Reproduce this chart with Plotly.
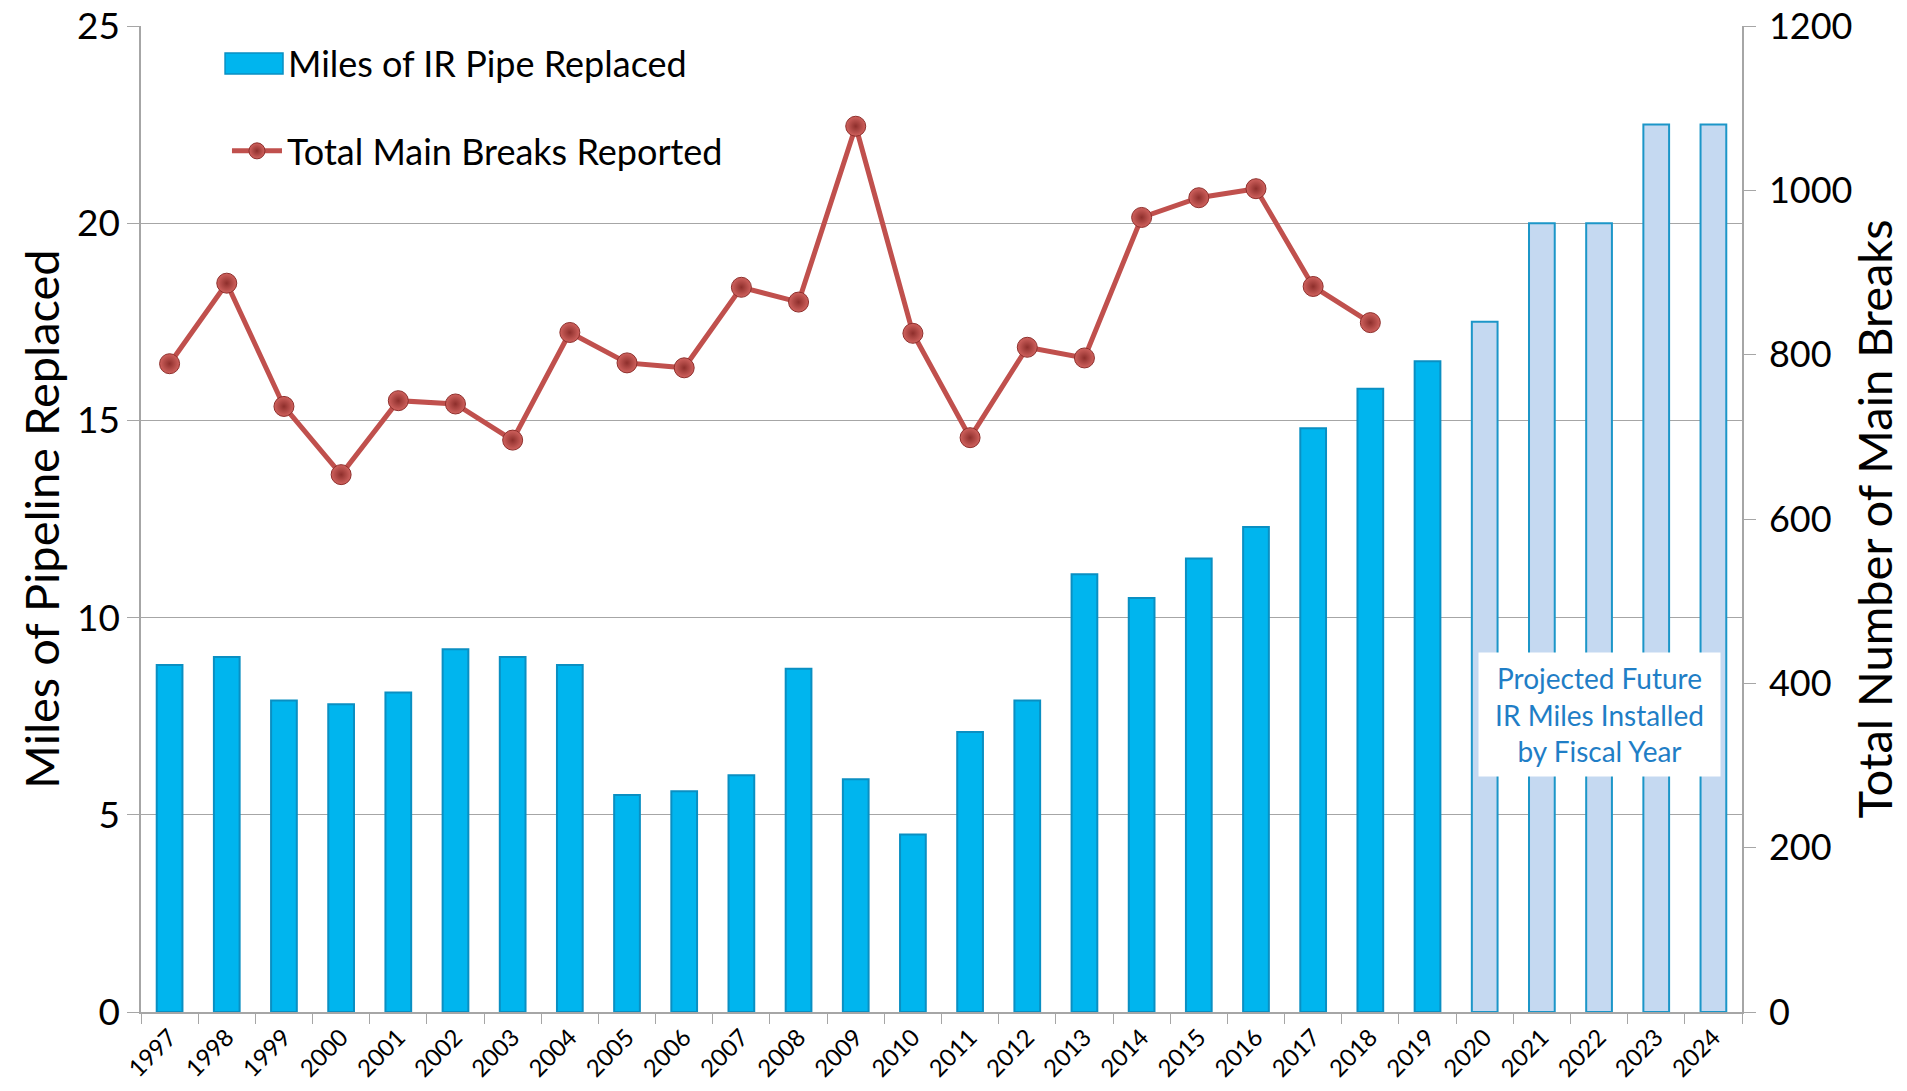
import plotly.graph_objects as go

years = [str(y) for y in range(1997, 2025)]
miles_replaced = [8.8, 9.0, 7.9, 7.8, 8.1, 9.2, 9.0, 8.8, 5.5, 5.6, 6.0, 8.7, 5.9, 4.5,
                  7.1, 7.9, 11.1, 10.5, 11.5, 12.3, 14.8, 15.8, 16.5, 17.5, 20.0, 20.0, 22.5, 22.5]
projected_flag = [False] * 23 + [True] * 5
break_years = [str(y) for y in range(1997, 2019)]
main_breaks = [789, 887, 737, 654, 744, 740, 696, 827, 790, 784, 882, 864, 1078, 826,
               699, 809, 796, 967, 991, 1002, 883, 839]

left_ticks = [0, 5, 10, 15, 20, 25]
right_ticks = [0, 200, 400, 600, 800, 1000, 1200]

bar_name = 'Miles of IR Pipe Replaced'
line_name = 'Total Main Breaks Reported'

bar_fill = ['#C5D9F1' if p else '#00B5EE' for p in projected_flag]
bar_edge = ['#1C96C8' if p else '#0A8FC2' for p in projected_flag]

FONT = 'Lato, Open Sans, sans-serif'

fig = go.Figure()
fig.add_trace(go.Bar(
    x=years, y=miles_replaced, name=bar_name,
    marker=dict(color=bar_fill, line=dict(color=bar_edge, width=2)),
    width=0.45, yaxis='y', showlegend=False,
))
fig.add_trace(go.Scatter(
    x=break_years, y=main_breaks, name=line_name,
    mode='lines+markers', yaxis='y2',
    line=dict(color='#C0504D', width=5),
    marker=dict(size=20, color='#D0625E',
                gradient=dict(type='radial', color='#8E2F2C'),
                line=dict(color='#8E2F2C', width=1)),
))

# legend entry for the bar series: wide swatch + label (as in the original legend)
fig.add_shape(type='rect', xref='paper', yref='paper',
              x0=0.0525, x1=0.0887, y0=0.9513, y1=0.9726,
              fillcolor='#00B5EE', line=dict(color='#0A8FC2', width=1.5), layer='above')
fig.add_annotation(
    x=0.0905, y=0.9625, xref='paper', yref='paper', xanchor='left', yanchor='middle',
    text=bar_name, showarrow=False,
    font=dict(family=FONT, size=36, color='black'),
)

fig.add_annotation(
    x=0.9107, y=0.3017, xref='paper', yref='paper',
    xanchor='center', yanchor='middle',
    text='Projected Future<br>IR Miles Installed<br>by Fiscal Year',
    showarrow=False, align='center',
    font=dict(family=FONT, size=28, color='#1F7EC6'),
    bgcolor='white', borderpad=8, width=225, height=107,
)

fig.update_layout(
    width=1907, height=1091,
    margin=dict(l=141, r=165, t=26, b=79, autoexpand=False),
    paper_bgcolor='white', plot_bgcolor='white',
    showlegend=True,
    legend=dict(x=0.0537, y=0.9037, xanchor='left', yanchor='top',
                bgcolor='rgba(0,0,0,0)',
                font=dict(family=FONT, size=36, color='black'),
                itemwidth=50),
    xaxis=dict(
        type='category', range=[-0.5, 27.5], autorange=False,
        tickangle=-45, tickson='boundaries',
        ticks='outside', ticklen=10, tickcolor='#A6A6A6',
        showline=True, linecolor='#A6A6A6', linewidth=1.5,
        showgrid=False, automargin=False,
        tickfont=dict(family=FONT, size=24, color='black'),
    ),
    yaxis=dict(
        range=[0, 25], tickvals=left_ticks, autorange=False,
        showgrid=True, gridcolor='#A6A6A6', gridwidth=1,
        showline=True, linecolor='#A6A6A6', linewidth=1.5,
        ticks='outside', ticklen=12, tickcolor='#A6A6A6',
        automargin=False, ticklabeloverflow='allow',
        tickfont=dict(family=FONT, size=37, color='black'),
        title=dict(text='Miles of Pipeline Replaced', standoff=2,
                   font=dict(family=FONT, size=47, color='black')),
        zeroline=False,
    ),
    yaxis2=dict(
        range=[0, 1200], tickvals=right_ticks, overlaying='y', side='right',
        autorange=False, showgrid=False,
        showline=True, linecolor='#A6A6A6', linewidth=1.5,
        ticks='outside', ticklen=12, tickcolor='#A6A6A6',
        automargin=False, ticklabeloverflow='allow', ticklabelstandoff=6,
        tickfont=dict(family=FONT, size=36, color='black'),
        title=dict(text='Total Number of Main Breaks', standoff=8,
                   font=dict(family=FONT, size=47, color='black')),
        zeroline=False,
    ),
)

fig.write_html('out.html', config={'displayModeBar': False},
               post_script="document.body.style.margin='0';")
